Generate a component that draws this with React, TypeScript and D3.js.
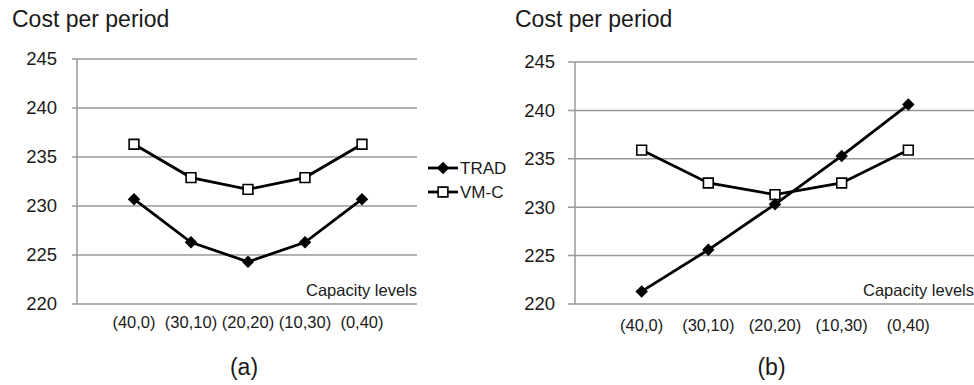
import React from 'react'
import * as d3 from 'd3'

// capacity level categories
const categories = ['(40,0)', '(30,10)', '(20,20)', '(10,30)', '(0,40)']
const yTicks = [220, 225, 230, 235, 240, 245]

// panel (a)
const tradA = [230.7, 226.3, 224.3, 226.3, 230.7]
const vmcA = [236.3, 232.9, 231.7, 232.9, 236.3]

// panel (b)
const tradB = [221.3, 225.6, 230.3, 235.3, 240.6]
const vmcB = [235.9, 232.5, 231.3, 232.5, 235.9]

const seriesNames = ['TRAD', 'VM-C']

const panels = [
    { tag: '(a)', trad: tradA, vmc: vmcA, x0: 77, x1: 419, top: 59, bottom: 304, gridL: 72, gridR: 417, titleX: 12, labelBase: 328 },
    { tag: '(b)', trad: tradB, vmc: vmcB, x0: 575, x1: 975, top: 62, bottom: 304, gridL: 568, gridR: 974, titleX: 515, labelBase: 331 },
]

const tickFont = 'Liberation Sans, Arial, sans-serif'

const diamond = d3.symbol().type(d3.symbolSquare).size(78)()
const square = d3.symbol().type(d3.symbolSquare).size(95)()

function Panel({ p }) {
    const x = d3.scaleLinear().domain([0, categories.length + 1]).range([p.x0, p.x1])
    const y = d3.scaleLinear().domain([220, 245]).range([p.bottom, p.top])
    const line = d3.line<number>().x((_, i) => x(i + 1)).y(d => y(d))

    return (
        <g>
            <text x={p.titleX} y={27} fontSize={23} fill="#1a1a1a" fontFamily={tickFont}>Cost per period</text>
            {yTicks.map(t => (
                <g key={t}>
                    <line x1={p.gridL} x2={p.gridR} y1={y(t)} y2={y(t)} stroke="#999" strokeWidth={1.5} />
                    <text x={p.x0 - 20} y={y(t)} dy="0.35em" textAnchor="end" fontSize={18.5} fill="#1a1a1a" fontFamily={tickFont}>{t}</text>
                </g>
            ))}
            <line x1={p.x0} x2={p.x0} y1={p.top} y2={p.bottom} stroke="#999" strokeWidth={1.5} />
            {categories.map((c, i) => (
                <text key={c} x={x(i + 1)} y={p.labelBase} textAnchor="middle" fontSize={16.5} fill="#1a1a1a" fontFamily={tickFont}>{c}</text>
            ))}
            <text x={p.gridR} y={296} textAnchor="end" fontSize={16.5} fill="#1a1a1a" fontFamily={tickFont}>Capacity levels</text>

            <path d={line(p.vmc) || ''} fill="none" stroke="#000" strokeWidth={2.8} />
            <path d={line(p.trad) || ''} fill="none" stroke="#000" strokeWidth={2.8} />
            {p.vmc.map((v, i) => (
                <path key={'v' + i} d={square} transform={`translate(${x(i + 1)},${y(v)})`} fill="#fff" stroke="#000" strokeWidth={1.6} />
            ))}
            {p.trad.map((v, i) => (
                <path key={'t' + i} d={diamond} transform={`translate(${x(i + 1)},${y(v)}) rotate(45)`} fill="#000" />
            ))}
            <text x={(p.x0 + p.gridR) / 2 - 3} y={375} textAnchor="middle" fontSize={23} fill="#1a1a1a" fontFamily={tickFont}>{p.tag}</text>
        </g>
    )
}

export default function App() {
    return (
        <div style={{ position: 'absolute', left: 0, top: 0 }}>
            <svg width={974} height={385} style={{ display: 'block', background: '#fff' }}>
                {panels.map(p => <Panel key={p.tag} p={p} />)}
                {seriesNames.map((s, i) => (
                    <g key={s} transform={`translate(0,${168 + i * 24})`}>
                        <line x1={428} x2={458} y1={0} y2={0} stroke="#000" strokeWidth={2.8} />
                        {i === 0
                            ? <path d={diamond} transform="translate(443,0) rotate(45)" fill="#000" />
                            : <path d={square} transform="translate(443,0)" fill="#fff" stroke="#000" strokeWidth={1.6} />}
                        <text x={460} y={0} dy="0.36em" fontSize={17} fill="#1a1a1a" fontFamily={tickFont}>{s}</text>
                    </g>
                ))}
            </svg>
        </div>
    )
}
